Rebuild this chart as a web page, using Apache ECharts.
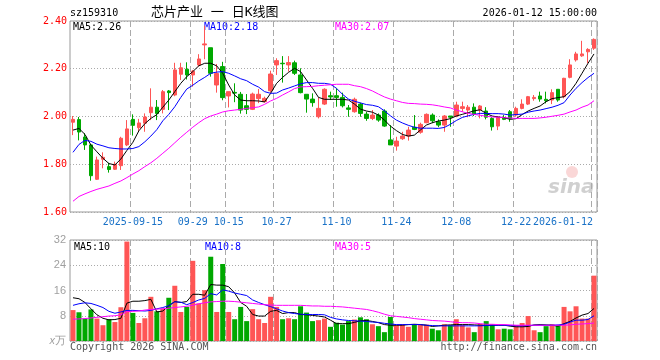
<!DOCTYPE html>
<html><head><meta charset="utf-8">
<script src="https://cdn.jsdelivr.net/npm/echarts@6/dist/echarts.min.js"></script>
<style>html,body{margin:0;padding:0;background:#fff}#c{width:660px;height:360px}</style>
</head><body><div id="c"></div>
<script>
const dates = ['2025-09-01','2025-09-02','2025-09-03','2025-09-04','2025-09-05','2025-09-08','2025-09-09','2025-09-10','2025-09-11','2025-09-12',
'2025-09-15','2025-09-16','2025-09-17','2025-09-18','2025-09-19','2025-09-22','2025-09-23','2025-09-24','2025-09-25','2025-09-26',
'2025-09-29','2025-09-30','2025-10-09','2025-10-10','2025-10-13','2025-10-14','2025-10-15','2025-10-16','2025-10-17','2025-10-20',
'2025-10-21','2025-10-22','2025-10-23','2025-10-24','2025-10-27','2025-10-28','2025-10-29','2025-10-30','2025-10-31','2025-11-03',
'2025-11-04','2025-11-05','2025-11-06','2025-11-07','2025-11-10','2025-11-11','2025-11-12','2025-11-13','2025-11-14','2025-11-17',
'2025-11-18','2025-11-19','2025-11-20','2025-11-21','2025-11-24','2025-11-25','2025-11-26','2025-11-27','2025-11-28','2025-12-01',
'2025-12-02','2025-12-03','2025-12-04','2025-12-05','2025-12-08','2025-12-09','2025-12-10','2025-12-11','2025-12-12','2025-12-15',
'2025-12-16','2025-12-17','2025-12-18','2025-12-19','2025-12-22','2025-12-23','2025-12-24','2025-12-25','2025-12-26','2025-12-29',
'2025-12-30','2025-12-31','2026-01-05','2026-01-06','2026-01-07','2026-01-08','2026-01-09','2026-01-12'];

const opens = [1.976,1.987,1.914,1.881,1.737,1.821,1.790,1.779,1.794,1.881,
1.988,1.953,1.972,2.016,2.039,2.030,2.107,2.090,2.177,2.198,
2.174,2.216,2.300,2.288,2.132,2.209,2.086,2.101,2.093,2.045,
2.030,2.075,2.062,2.108,2.216,2.223,2.216,2.225,2.174,2.093,
2.073,1.999,2.052,2.087,2.087,2.080,2.036,2.020,2.052,2.010,
1.992,2.006,2.023,1.902,1.876,1.907,1.918,1.955,1.934,1.974,
2.006,1.978,1.964,2.002,2.002,2.034,2.027,2.039,2.027,2.023,
1.992,1.960,1.995,2.020,2.006,2.034,2.052,2.075,2.086,2.072,
2.069,2.114,2.083,2.164,2.237,2.254,2.271,2.286];
const closes = [1.988,1.935,1.881,1.752,1.818,1.829,1.778,1.800,1.909,1.948,
1.963,1.973,1.998,2.039,2.013,2.104,2.100,2.195,2.204,2.174,
2.190,2.241,2.304,2.181,2.180,2.079,2.104,2.098,2.027,2.030,
2.094,2.093,2.076,2.178,2.234,2.221,2.226,2.181,2.100,2.073,
2.058,2.034,2.114,2.082,2.080,2.045,2.030,2.072,2.013,1.992,
2.006,1.985,1.960,1.881,1.897,1.918,1.943,1.946,1.967,2.009,
1.982,1.964,2.002,1.997,2.048,2.041,2.039,2.010,2.044,1.997,
1.957,1.997,1.988,1.992,2.034,2.052,2.083,2.080,2.073,2.066,
2.100,2.069,2.160,2.216,2.262,2.262,2.281,2.323];
const lows = [1.922,1.900,1.860,1.731,1.734,1.783,1.765,1.776,1.776,1.876,
1.920,1.937,1.936,1.985,1.985,2.013,2.027,2.085,2.153,2.155,
2.125,2.209,2.240,2.167,2.100,2.068,2.038,2.060,2.012,2.010,
2.027,2.056,2.058,2.100,2.174,2.142,2.188,2.174,2.097,2.016,
2.041,1.992,2.048,2.069,2.041,2.038,1.999,2.016,1.999,1.982,
1.985,1.978,1.957,1.881,1.857,1.902,1.899,1.943,1.928,1.972,
1.972,1.955,1.936,1.957,1.997,2.020,1.997,2.002,1.992,1.988,
1.941,1.943,1.985,1.978,1.999,2.030,2.048,2.066,2.062,2.055,
2.052,2.062,2.076,2.160,2.230,2.250,2.223,2.279];
const highs = [2.002,1.998,1.930,1.885,1.832,1.850,1.806,1.811,1.915,1.985,
2.009,1.990,2.013,2.118,2.069,2.111,2.111,2.225,2.225,2.227,
2.195,2.261,2.380,2.288,2.220,2.229,2.104,2.139,2.103,2.094,
2.100,2.115,2.083,2.192,2.244,2.253,2.253,2.234,2.202,2.093,
2.097,2.080,2.118,2.104,2.118,2.100,2.048,2.079,2.058,2.020,
2.027,2.013,2.030,1.964,1.915,1.936,1.957,2.006,1.974,2.013,
2.013,1.988,2.006,2.002,2.062,2.062,2.048,2.055,2.048,2.039,
1.997,2.002,2.006,2.027,2.041,2.072,2.086,2.090,2.104,2.104,
2.114,2.114,2.162,2.240,2.271,2.317,2.286,2.327];

const ma5 = [1.943,1.950,1.925,1.880,1.852,1.825,1.803,1.797,1.822,1.858,
1.892,1.940,1.970,1.992,2.008,2.039,2.069,2.104,2.139,2.167,
2.188,2.212,2.223,2.223,2.212,2.181,2.132,2.090,2.069,2.066,
2.066,2.065,2.061,2.097,2.139,2.164,2.185,2.202,2.188,2.153,
2.118,2.080,2.072,2.072,2.072,2.072,2.069,2.052,2.031,2.023,
2.018,2.006,1.985,1.960,1.941,1.925,1.918,1.922,1.943,1.964,
1.974,1.981,1.985,1.991,2.002,2.009,2.016,2.024,2.028,2.013,
2.002,1.998,1.995,1.988,1.991,2.008,2.023,2.034,2.044,2.062,
2.075,2.079,2.083,2.104,2.139,2.181,2.223,2.262];
const ma10 = [1.850,1.883,1.900,1.896,1.884,1.877,1.869,1.866,1.864,1.864,
1.866,1.874,1.894,1.918,1.945,1.982,2.009,2.041,2.080,2.115,
2.131,2.149,2.164,2.181,2.186,2.188,2.181,2.170,2.158,2.150,
2.135,2.123,2.104,2.097,2.098,2.111,2.119,2.128,2.137,2.142,
2.142,2.139,2.139,2.135,2.118,2.093,2.073,2.064,2.057,2.050,
2.047,2.041,2.024,2.003,1.985,1.973,1.963,1.955,1.951,1.951,
1.951,1.950,1.954,1.967,1.983,1.996,2.003,2.009,2.013,2.013,
2.012,2.012,2.010,2.006,2.008,2.010,2.018,2.023,2.027,2.033,
2.039,2.047,2.058,2.090,2.118,2.142,2.163,2.181];
const ma30 = [1.645,1.665,1.676,1.686,1.695,1.702,1.709,1.720,1.730,1.744,
1.759,1.773,1.790,1.806,1.825,1.846,1.867,1.890,1.913,1.934,
1.955,1.974,1.991,2.002,2.010,2.019,2.024,2.027,2.030,2.034,
2.037,2.040,2.051,2.065,2.076,2.090,2.103,2.117,2.124,2.125,
2.126,2.129,2.131,2.133,2.135,2.135,2.135,2.129,2.125,2.117,
2.107,2.094,2.082,2.073,2.066,2.059,2.055,2.054,2.052,2.051,
2.049,2.045,2.040,2.036,2.027,2.020,2.013,2.009,2.005,2.001,
1.998,1.997,1.995,1.994,1.992,1.992,1.992,1.992,1.994,1.997,
2.001,2.005,2.010,2.019,2.027,2.039,2.048,2.066];

const volumes = [9.8,9.1,7.1,10.0,7.1,5.0,6.9,6.0,10.7,31.5,
8.9,5.7,7.2,14.0,9.4,10.3,13.7,17.5,9.2,10.8,
25.4,11.9,16.1,26.7,9.2,24.4,9.2,6.9,10.8,6.3,
10.1,6.9,5.7,14.0,10.8,6.9,7.2,6.9,11.0,9.0,
6.3,6.6,7.1,4.5,5.8,5.2,6.3,6.8,7.5,6.9,
5.3,4.7,2.8,7.6,5.0,5.3,4.5,5.3,5.2,5.2,
3.9,3.4,5.3,5.0,6.9,5.0,4.3,2.8,5.4,6.3,
5.2,3.7,3.9,3.7,5.0,5.7,7.9,3.4,2.8,4.7,
5.3,5.0,10.8,9.4,11.0,7.1,7.1,20.7];
const volMa5 = [13.7,13.4,12.2,10.2,8.3,7.2,6.7,6.8,7.2,12.0,
12.6,12.6,12.8,13.2,9.2,9.5,11.2,12.5,12.2,12.5,
14.8,14.8,14.5,17.9,17.7,17.7,17.2,15.2,12.2,11.0,
8.4,7.9,7.9,9.4,9.7,8.7,9.0,9.0,8.4,8.3,
8.1,7.9,7.6,6.6,5.5,5.5,5.5,5.9,6.4,6.5,
6.2,5.8,5.2,5.0,5.0,5.0,5.2,5.3,5.2,5.0,
4.6,4.8,5.0,5.1,5.2,5.2,5.2,5.1,5.0,5.0,
5.0,5.0,5.0,4.7,4.5,4.5,4.6,5.1,5.2,5.1,
5.0,4.7,5.5,6.2,7.3,8.2,8.7,10.3];
const volMa10 = [11.3,11.8,12.1,11.9,11.3,10.6,9.4,8.8,9.2,9.7,
9.7,9.6,9.5,9.7,10.2,10.6,11.2,12.4,12.3,11.5,
12.2,13.0,13.5,15.0,14.6,16.2,15.8,15.2,14.8,14.4,
13.0,12.2,11.5,10.9,10.2,9.5,9.0,8.7,8.5,8.4,
8.4,8.4,8.3,7.5,7.0,6.7,6.5,6.4,6.3,6.2,
6.0,5.9,5.6,5.4,5.2,5.2,5.2,5.2,5.2,5.0,
4.9,4.8,4.8,4.8,4.8,4.8,4.8,4.8,4.8,4.9,
5.0,5.0,5.0,4.9,4.8,4.8,4.9,5.0,5.0,5.0,
5.0,5.1,5.3,6.0,6.6,6.6,6.8,8.0];
const volMa30 = [6.9,7.0,7.1,7.3,7.5,7.7,7.9,8.0,8.3,9.3,
9.4,9.5,9.8,10.0,10.1,10.2,10.4,10.6,10.8,11.0,
11.3,11.8,12.1,12.4,12.5,12.6,12.6,12.5,12.3,12.1,
11.9,11.7,11.5,11.4,11.3,11.3,11.3,11.3,11.3,11.2,
11.1,11.1,11.0,11.0,10.9,10.8,10.6,10.4,10.2,10.0,
9.6,9.1,8.5,8.0,7.8,7.6,7.4,7.1,6.9,6.7,
6.5,6.4,6.3,6.1,5.9,5.8,5.8,5.7,5.5,5.3,
5.3,5.2,5.2,5.1,5.0,5.0,5.0,5.0,5.0,5.0,
5.0,5.0,5.0,5.1,5.3,5.4,5.5,5.7];

const labelDates = ['2025-09-15','2025-09-29','2025-10-15','2025-10-27','2025-11-10','2025-11-24','2025-12-08','2025-12-22','2026-01-12'];
const tickLabels = ['2025-09-15','09-29','10-15','10-27','11-10','11-24','12-08','12-22','2026-01-12'];

const MONO = '"DejaVu Sans Mono", "Liberation Mono", monospace';
const UP = '#ff5555', DOWN = '#00a800';
const showIdx = new Set(labelDates.map(d => dates.indexOf(d)));
const lastIdx = dates.length - 1;
const candleData = opens.map((o, i) => [o, closes[i], lows[i], highs[i]]);
const last = a => a[a.length - 1];

const chart = echarts.init(document.getElementById('c'));
const vSplit = {show: true, interval: (i) => showIdx.has(i), lineStyle: {color: '#aaaaaa', width: 1, type: [6, 3]}};
const hSplit = {show: true, lineStyle: {color: '#aaaaaa', width: 1, type: [1, 2]}};
function lineSeries(data, color, xi, yi) {
  return {type: 'line', data: data, xAxisIndex: xi, yAxisIndex: yi, symbol: 'none', showSymbol: false,
    lineStyle: {color: color, width: 1}, itemStyle: {color: color}, z: 5, silent: true};
}
function txt(x, y, text, color, opts) {
  return Object.assign({type: 'text', x: x, y: y, silent: true,
    style: {text: text, fill: color, font: '10px ' + MONO, textVerticalAlign: 'middle', textAlign: 'left'}}, opts || {});
}
const option = {
  animation: false,
  backgroundColor: '#ffffff',
  grid: [
    {left: 70, top: 21, width: 527, height: 191, show: true, borderColor: '#999999', borderWidth: 1},
    {left: 70, top: 240, width: 527, height: 101, show: true, borderColor: '#999999', borderWidth: 1}
  ],
  xAxis: [
    {type: 'category', gridIndex: 0, data: dates, boundaryGap: true,
     axisLine: {show: false}, axisTick: {show: false},
     axisLabel: {interval: (i) => showIdx.has(i), color: '#1a72c7', fontFamily: MONO, fontSize: 10, margin: 5,
       formatter: (v, i) => {
         const k = labelDates.indexOf(v);
         const t = k >= 0 ? tickLabels[k] : '';
         return v === dates[lastIdx] ? '{r|' + t + '}' : t;
       },
       rich: {r: {color: '#1a72c7', fontFamily: MONO, fontSize: 10, padding: [0, 62, 0, 0]}}},
     splitLine: vSplit},
    {type: 'category', gridIndex: 1, data: dates, boundaryGap: true,
     axisLine: {show: false}, axisTick: {show: false}, axisLabel: {show: false}, splitLine: vSplit}
  ],
  yAxis: [
    {type: 'value', gridIndex: 0, min: 1.6, max: 2.4, interval: 0.2, scale: true,
     axisLine: {show: false}, axisTick: {show: false},
     axisLabel: {color: '#ff0000', fontFamily: MONO, fontSize: 10, margin: 3, formatter: v => v.toFixed(2)},
     splitLine: hSplit},
    {type: 'value', gridIndex: 1, min: 0, max: 32, interval: 8,
     axisLine: {show: false}, axisTick: {show: false},
     axisLabel: {color: '#a0a0a0', fontFamily: '"Liberation Sans", sans-serif', fontSize: 11, margin: 4,
       formatter: v => v === 0 ? '{i|x}万' : String(v),
       rich: {i: {fontStyle: 'italic', color: '#a0a0a0', fontSize: 11}}},
     splitLine: hSplit}
  ],
  series: [
    {type: 'candlestick', data: candleData, xAxisIndex: 0, yAxisIndex: 0, barWidth: 4, silent: true,
     itemStyle: {color: UP, color0: DOWN, borderColor: UP, borderColor0: DOWN, borderWidth: 1}},
    lineSeries(ma5, '#000000', 0, 0),
    lineSeries(ma10, '#0000ff', 0, 0),
    lineSeries(ma30, '#ff00ff', 0, 0),
    {type: 'bar', data: volumes, xAxisIndex: 1, yAxisIndex: 1, barWidth: 5, silent: true,
     itemStyle: {color: p => closes[p.dataIndex] >= opens[p.dataIndex] ? UP : DOWN}},
    lineSeries(volMa5, '#000000', 1, 1),
    lineSeries(volMa10, '#0000ff', 1, 1),
    lineSeries(volMa30, '#ff00ff', 1, 1)
  ],
  graphic: [
    txt(70, 13, 'sz159310', '#000000'),
    txt(151, 13, '芯片产业 一 日K线图', '#000000', {style: {text: '芯片产业 一 日K线图', fill: '#000', font: '13px "DejaVu Sans Mono", "Noto Sans CJK SC", sans-serif', textVerticalAlign: 'middle'}}),
    txt(597, 13, '2026-01-12 15:00:00', '#000000', {style: {text: '2026-01-12 15:00:00', fill: '#000', font: '10px ' + MONO, textVerticalAlign: 'middle', textAlign: 'right'}}),
    txt(73, 27, 'MA5:' + last(ma5).toFixed(2), '#000000'),
    txt(204, 27, 'MA10:' + last(ma10).toFixed(2), '#0000ff'),
    txt(335, 27, 'MA30:' + last(ma30).toFixed(2), '#ff00ff'),
    txt(74, 247, 'MA5:' + Math.floor(last(volMa5)), '#000000'),
    txt(205, 247, 'MA10:' + Math.floor(last(volMa10)), '#0000ff'),
    txt(335, 247, 'MA30:' + Math.floor(last(volMa30)), '#ff00ff'),
    txt(70, 347, 'Copyright 2026 SINA.COM', '#555555'),
    txt(597, 347, 'http://finance.sina.com.cn', '#555555', {style: {text: 'http://finance.sina.com.cn', fill: '#555', font: '10px ' + MONO, textVerticalAlign: 'middle', textAlign: 'right'}}),
    {type: 'circle', shape: {cx: 572, cy: 172, r: 6}, style: {fill: 'rgba(240,140,140,0.35)'}, silent: true},
    {type: 'text', x: 548, y: 188, silent: true,
     style: {text: 'sina', fill: 'rgba(150,150,150,0.45)', font: 'italic bold 20px "DejaVu Sans", sans-serif', textVerticalAlign: 'middle'}}
  ]
};
chart.setOption(option);
</script></body></html>
